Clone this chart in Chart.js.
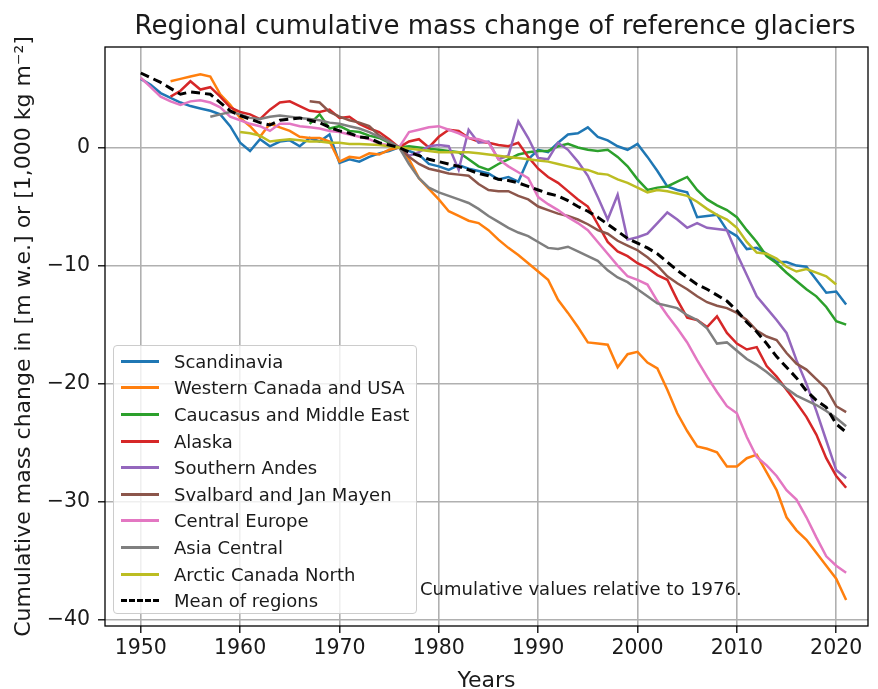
<!DOCTYPE html>
<html>
<head>
<meta charset="utf-8">
<script src="https://cdn.jsdelivr.net/npm/chart.js@4.4.1/dist/chart.umd.min.js"></script>
<style>
  body { margin: 0; background: #fff; font-family: "DejaVu Sans", sans-serif; }
  #wrap { position: relative; width: 878px; height: 689px; overflow: hidden; }
  #titulo { position: absolute; left: 95px; width: 800px; top: 10px; line-height: 30px; text-align: center; font-size: 26px; color: #1a1a1a; }
  #legenda {
    position: absolute; left: 113px; top: 345px; width: 304px; height: 269px;
    box-sizing: border-box; border: 1px solid #cccccc; border-radius: 4px;
    background: rgba(255, 255, 255, 0.8); padding-top: 2px;
  }
  .linha { height: 26.6px; display: flex; align-items: center; font-size: 18px; color: #1a1a1a; }
  .amostra { width: 38px; margin: 0 15px 0 7px; border-top-width: 3px; }
  #nota { position: absolute; left: 420px; top: 578px; font-size: 18px; color: #1a1a1a; }
</style>
</head>
<body>
<div id="wrap">
  <canvas id="grafico" width="878" height="689"></canvas>
  <div id="titulo">Regional cumulative mass change of reference glaciers</div>
  <div id="legenda"></div>
  <div id="nota">Cumulative values relative to 1976.</div>
</div>
<script>
const anos = [1950, 1951, 1952, 1953, 1954, 1955, 1956, 1957, 1958, 1959,
  1960, 1961, 1962, 1963, 1964, 1965, 1966, 1967, 1968, 1969,
  1970, 1971, 1972, 1973, 1974, 1975, 1976, 1977, 1978, 1979,
  1980, 1981, 1982, 1983, 1984, 1985, 1986, 1987, 1988, 1989,
  1990, 1991, 1992, 1993, 1994, 1995, 1996, 1997, 1998, 1999,
  2000, 2001, 2002, 2003, 2004, 2005, 2006, 2007, 2008, 2009,
  2010, 2011, 2012, 2013, 2014, 2015, 2016, 2017, 2018, 2019,
  2020, 2021];

const xTicks = [1950, 1960, 1970, 1980, 1990, 2000, 2010, 2020];
const yTicks = [0, -10, -20, -30, -40];

// cada serie comeca num ano diferente
const scandinavia = [5.8, 5.3, 4.6, 4.2, 3.8, 3.5, 3.3, 3.1, 2.8, 1.8,
  0.4, -0.3, 0.7, 0.1, 0.5, 0.6, 0.1, 0.8, 0.5, 1.1,
  -1.3, -1.0, -1.2, -0.8, -0.5, -0.3, 0, -0.3, -0.6, -1.4,
  -1.6, -1.9, -1.5, -1.8, -2.0, -2.2, -2.7, -2.5, -2.9, -1.0,
  -0.2, -0.4, 0.4, 1.1, 1.2, 1.7, 0.9, 0.6, 0.1, -0.2,
  0.3, -0.8, -2.0, -3.3, -3.6, -3.8, -5.9, -5.8, -5.7, -7.0,
  -7.5, -8.6, -8.5, -9.0, -9.7, -9.7, -10.0, -10.1, -11.2, -12.3,
  -12.2, -13.3];

const westernCanada = [5.6, 5.8, 6.0, 6.2, 6.0, 4.5, 3.6,
  2.5, 1.8, 0.9, 2.0, 1.7, 1.4, 0.9, 0.8, 0.8, 0.5,
  -1.2, -0.8, -0.9, -0.5, -0.6, -0.2, 0, -1.0, -2.6, -3.5,
  -4.4, -5.4, -5.8, -6.2, -6.4, -7.0, -7.8, -8.5, -9.1, -9.8,
  -10.5, -11.2, -12.9, -14.0, -15.2, -16.5, -16.6, -16.7, -18.6, -17.5,
  -17.3, -18.2, -18.7, -20.5, -22.5, -24.0, -25.3, -25.5, -25.8, -27.0,
  -27.0, -26.3, -26.0, -27.5, -29.0, -31.3, -32.4, -33.2, -34.3, -35.4,
  -36.5, -38.3];

const caucasus = [2.0, 2.8, 1.6,
  1.8, 1.4, 1.3, 1.0, 0.8, 0.4, 0, 0.1, 0.0, -0.1,
  -0.2, -0.3, -0.4, -1.0, -1.6, -1.9, -1.4, -1.0, -0.6, -0.4,
  -0.3, -0.3, 0.1, 0.3, 0.0, -0.2, -0.3, -0.2, -0.8, -1.6,
  -2.7, -3.6, -3.4, -3.3, -2.9, -2.5, -3.6, -4.4, -4.9, -5.3,
  -5.9, -7.0, -8.0, -9.2, -9.8, -10.6, -11.3, -12.0, -12.6, -13.5,
  -14.7, -15.0];

const alaska = [4.3, 4.8, 5.6, 4.9, 5.1, 4.3, 3.4,
  3.0, 2.8, 2.4, 3.2, 3.8, 3.9, 3.5, 3.1, 3.0, 3.2,
  2.5, 2.6, 2.0, 1.6, 1.3, 0.7, 0, 0.5, 0.7, 0.0,
  0.9, 1.5, 1.4, 0.8, 0.5, 0.4, 0.2, 0.1, 0.4, -0.8,
  -1.8, -2.5, -3.0, -3.7, -4.4, -5.0, -6.5, -8.0, -8.8, -9.2,
  -9.8, -10.2, -10.8, -11.2, -12.9, -14.4, -14.6, -15.2, -14.3, -15.7,
  -16.6, -17.1, -16.9, -18.5, -19.4, -20.5, -21.6, -22.8, -24.3, -26.3,
  -27.8, -28.8];

const southernAndes = [0, -0.7, -0.4, 0.1,
  0.2, 0.1, -1.9, 1.5, 0.4, 0.5, -1.0, -0.7, 2.2, 0.8,
  -0.9, -1.0, 0.4, -0.2, -1.2, -2.4, -4.2, -6.1, -4.0, -7.8,
  -7.6, -7.3, -6.4, -5.5, -6.1, -6.8, -6.4, -6.8, -6.9, -7.0,
  -9.0, -10.8, -12.6, -13.6, -14.6, -15.7, -18.0, -20.0, -22.3, -24.8,
  -27.3, -28.0];

const svalbard = [3.9, 3.8, 3.0,
  2.6, 2.3, 2.1, 1.8, 1.0, 0.5, 0, -0.8, -1.4, -1.8,
  -2.0, -2.2, -2.3, -2.4, -3.1, -3.6, -3.7, -3.7, -4.1, -4.4,
  -5.0, -5.3, -5.6, -5.8, -6.1, -6.5, -7.0, -7.3, -7.9, -8.3,
  -8.7, -9.3, -10.0, -10.9, -11.5, -12.0, -12.6, -13.1, -13.4, -13.6,
  -14.0, -14.6, -15.5, -16.0, -16.3, -17.4, -18.3, -18.8, -19.6, -20.4,
  -21.9, -22.4];

const centralEurope = [5.9, 5.1, 4.3, 3.9, 3.6, 3.9, 4.0, 3.8, 3.4, 2.6,
  2.3, 2.0, 1.8, 1.4, 2.0, 2.0, 1.8, 1.7, 1.6, 1.4,
  1.3, 1.1, 0.9, 0.7, 0.3, 0.2, 0, 1.3, 1.5, 1.7,
  1.8, 1.5, 1.2, 0.8, 0.7, 0.4, -1.0, -1.6, -2.1, -2.6,
  -4.2, -4.8, -5.3, -5.9, -6.4, -7.0, -8.0, -9.0, -10.0, -10.9,
  -11.2, -11.6, -13.0, -14.2, -15.3, -16.5, -18.0, -19.4, -20.7, -21.9,
  -22.5, -24.5, -26.2, -26.9, -27.8, -29.0, -29.8, -31.3, -33.0, -34.6,
  -35.4, -36.0];

const asiaCentral = [2.6, 2.8, 3.0,
  2.8, 2.5, 2.4, 2.6, 2.7, 2.6, 2.5, 2.4, 2.3, 2.1,
  2.0, 1.8, 1.6, 1.3, 0.9, 0.5, 0, -1.4, -2.6, -3.4,
  -3.8, -4.1, -4.4, -4.7, -5.2, -5.8, -6.3, -6.8, -7.2, -7.5,
  -8.0, -8.5, -8.6, -8.4, -8.8, -9.2, -9.6, -10.4, -11.0, -11.4,
  -12.0, -12.6, -13.2, -13.4, -13.6, -14.2, -14.6, -15.3, -16.6, -16.5,
  -17.2, -17.9, -18.4, -19.0, -19.7, -20.4, -21.0, -21.4, -21.8, -22.3,
  -22.9, -23.6];

const arcticCanada = [1.3, 1.2, 1.0, 0.5, 0.6, 0.7, 0.6, 0.5, 0.5, 0.4,
  0.4, 0.3, 0.3, 0.25, 0.2, 0.1, 0, -0.1, -0.2, -0.3,
  -0.4, -0.4, -0.4, -0.4, -0.5, -0.6, -0.7, -0.8, -0.9, -1.0,
  -1.1, -1.2, -1.4, -1.6, -1.8, -1.9, -2.2, -2.3, -2.7, -3.0,
  -3.4, -3.8, -3.6, -3.7, -3.9, -4.1, -4.6, -5.2, -5.7, -6.1,
  -6.8, -8.0, -8.9, -9.0, -9.4, -10.1, -10.5, -10.3, -10.6, -10.9,
  -11.6];

const meanRegions = [6.3, 5.9, 5.5, 5.0, 4.5, 4.7, 4.6, 4.5, 3.8, 3.1,
  2.7, 2.4, 2.1, 1.9, 2.3, 2.4, 2.5, 2.3, 2.1, 1.7,
  1.4, 1.2, 0.9, 0.8, 0.4, 0.2, 0, -0.4, -0.7, -1.0,
  -1.2, -1.4, -1.6, -1.9, -2.2, -2.4, -2.7, -2.8, -3.0, -3.3,
  -3.6, -3.9, -4.1, -4.5, -5.0, -5.4, -5.9, -6.5, -7.1, -7.7,
  -8.1, -8.5, -9.0, -9.7, -10.4, -11.0, -11.6, -12.0, -12.5, -13.0,
  -13.8, -14.8, -15.6, -16.6, -17.7, -18.6, -19.5, -20.6, -21.4, -22.0,
  -23.4, -24.1];

const series = [
  { nome: 'Scandinavia', inicio: 1950, valores: scandinavia, cor: '#1f77b4' },
  { nome: 'Western Canada and USA', inicio: 1953, valores: westernCanada, cor: '#ff7f0e' },
  { nome: 'Caucasus and Middle East', inicio: 1967, valores: caucasus, cor: '#2ca02c' },
  { nome: 'Alaska', inicio: 1953, valores: alaska, cor: '#d62728' },
  { nome: 'Southern Andes', inicio: 1976, valores: southernAndes, cor: '#9467bd' },
  { nome: 'Svalbard and Jan Mayen', inicio: 1967, valores: svalbard, cor: '#8c564b' },
  { nome: 'Central Europe', inicio: 1950, valores: centralEurope, cor: '#e377c2' },
  { nome: 'Asia Central', inicio: 1957, valores: asiaCentral, cor: '#7f7f7f' },
  { nome: 'Arctic Canada North', inicio: 1960, valores: arcticCanada, cor: '#bcbd22' },
  { nome: 'Mean of regions', inicio: 1950, valores: meanRegions, cor: '#000000', tracejado: true }
];

const datasets = series.map((s, i) => {
  const offset = anos.indexOf(s.inicio);
  return {
    label: s.nome,
    data: s.valores.map((v, j) => ({ x: anos[offset + j], y: v })),
    borderColor: s.cor,
    borderWidth: s.tracejado ? 3 : 2.5,
    borderDash: s.tracejado ? [9, 5] : [],
    pointRadius: 0,
    tension: 0,
    fill: false,
    order: series.length - i
  };
});

// moldura preta em volta da area do grafico
const moldura = {
  id: 'moldura',
  afterDraw(chart) {
    const { ctx, chartArea: a } = chart;
    ctx.save();
    ctx.strokeStyle = '#000';
    ctx.lineWidth = 1.3;
    ctx.strokeRect(a.left, a.top, a.right - a.left, a.bottom - a.top);
    ctx.restore();
  }
};

const fonte = 'DejaVu Sans';

new Chart(document.getElementById('grafico').getContext('2d'), {
  type: 'line',
  data: { datasets },
  plugins: [moldura],
  options: {
    responsive: false,
    animation: false,
    layout: { padding: { right: 10, top: 47, left: 0, bottom: 0 } },
    plugins: {
      legend: { display: false },
      tooltip: { enabled: false }
    },
    scales: {
      x: {
        type: 'linear',
        min: 1946.4,
        max: 2023.2,
        afterBuildTicks: (scale) => { scale.ticks = xTicks.map((v) => ({ value: v })); },
        afterFit: (scale) => { scale.height = 63; },
        grid: { color: '#b0b0b0', lineWidth: 1.6, tickColor: '#000', tickLength: 7, tickWidth: 1.3 },
        border: { display: false },
        ticks: { color: '#1a1a1a', font: { family: fonte, size: 20.5 }, padding: 3, maxRotation: 0, callback: (v) => String(v) },
        title: { display: true, text: 'Years', color: '#1a1a1a', font: { family: fonte, size: 22 }, padding: { top: 0, bottom: -5 } }
      },
      y: {
        min: -40.5,
        max: 8.5,
        afterBuildTicks: (scale) => { scale.ticks = yTicks.map((v) => ({ value: v })); },
        afterFit: (scale) => { scale.width = 105; },
        grid: { color: '#b0b0b0', lineWidth: 1.6, tickColor: '#000', tickLength: 7, tickWidth: 1.3 },
        border: { display: false },
        ticks: { color: '#1a1a1a', font: { family: fonte, size: 20.5 }, padding: 8,
          callback: (v) => (v < 0 ? '\u2212' + Math.abs(v) : String(v)) },
        title: { display: true, text: 'Cumulative mass change in [m w.e.] or [1,000 kg m\u207B\u00B2]', color: '#1a1a1a', font: { family: fonte, size: 22 }, padding: 11 }
      }
    }
  }
});

// legenda em html dentro da area do grafico
const legenda = document.getElementById('legenda');
series.forEach((s) => {
  const linha = document.createElement('div');
  linha.className = 'linha';
  const amostra = document.createElement('span');
  amostra.className = 'amostra';
  amostra.style.borderTopStyle = s.tracejado ? 'dashed' : 'solid';
  amostra.style.borderTopColor = s.cor;
  const texto = document.createElement('span');
  texto.textContent = s.nome;
  linha.appendChild(amostra);
  linha.appendChild(texto);
  legenda.appendChild(linha);
});
</script>
</body>
</html>
